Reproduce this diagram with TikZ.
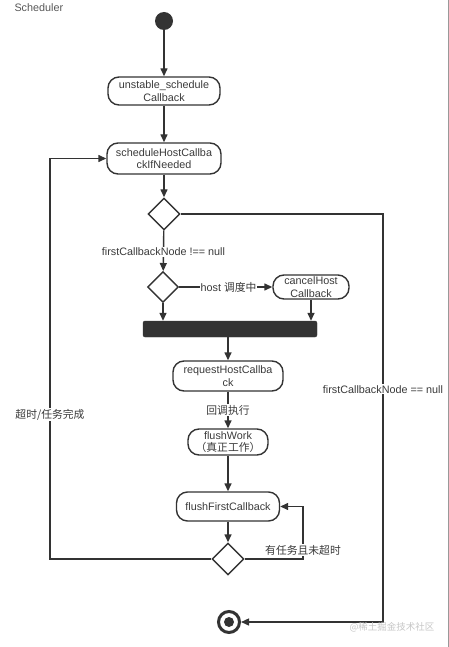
\documentclass[tikz,border=0pt]{standalone}
\usepackage{fontspec}
\setmainfont{Liberation Sans}
\newfontfamily\cjk{Noto Sans CJK SC}
\usetikzlibrary{arrows.meta,shapes.geometric}
\definecolor{lc}{HTML}{333333}
\definecolor{tc}{HTML}{3A3A3A}
\begin{document}
\begin{tikzpicture}[x=1pt,y=-1pt,
  every node/.style={text=tc,font=\fontsize{10.8}{12.5}\selectfont},
  line/.style={draw=lc,line width=1.4pt},
  arr/.style={line,-{Triangle[length=8pt,width=7pt]}},
  act/.style={draw=lc,line width=1.4pt,rounded corners=11pt,align=center,inner sep=1pt},
  dec/.style={diamond,draw=lc,line width=1.4pt,fill=white,inner sep=0pt,minimum width=32pt,minimum height=32pt},
  lbl/.style={fill=white,inner sep=1pt}]
\useasboundingbox (0,0) rectangle (449,647);
\draw[draw=gray!80,line width=1pt] (448.3,0) -- (448.3,647);
\node[anchor=west,text=tc!85] (title) at (11,8) {Scheduler};

\node[circle,fill=lc,minimum size=18pt,inner sep=0pt] (start) at (164,21) {};
\node[act,minimum width=112pt,minimum height=28pt] (u) at (164,91) {unstable\_schedule\\Callback};
\node[act,minimum width=114pt,minimum height=31pt] (s) at (164,158.5) {scheduleHostCallba\\ckIfNeeded};
\node[dec] (d1) at (164,214) {};
\node[dec,minimum width=31pt,minimum height=31pt] (d2) at (163,287) {};
\node[act,minimum width=76pt,minimum height=24pt] (c) at (311,287) {cancelHost\\Callback};
\node[draw=lc,fill=lc,rounded corners=2pt,minimum width=174pt,minimum height=16pt,inner sep=0pt] (bar) at (230,329) {};
\node[act,minimum width=110pt,minimum height=30pt] (r) at (228,376) {requestHostCallba\\ck};
\node[act,minimum width=80pt,minimum height=26pt] (f) at (228,442) {flushWork\\{\cjk（真正工作）}};
\node[act,minimum width=103pt,minimum height=29pt] (ff) at (228,506.5) {flushFirstCallback};
\node[dec] (d3) at (228,559) {};
\node[circle,draw=lc,line width=3pt,minimum size=21pt,inner sep=0pt] (end) at (229,622) {};
\node[circle,fill=lc,minimum size=10pt,inner sep=0pt] (endin) at (229,622) {};

\coordinate (k1) at (383,214);
\coordinate (k2) at (303,559);
\coordinate (k3) at (50,559);

\draw[arr] (start) -- (u);
\draw[arr] (u) -- (s);
\draw[arr] (s) -- (d1);
\draw[arr] (d1) -- node[lbl,pos=0.52] (l1) {firstCallbackNode !== null} (d2);
\draw[arr] (d2) -- node[lbl,pos=0.53] (l2) {host {\cjk 调度中}} (c);
\draw[arr] (d2.south) -- (d2.south |- bar.north);
\draw[arr] (c.south) -- (c.south |- bar.north);
\draw[arr] (r.north |- bar.south) -- (r.north);
\draw[arr] (r) -- node[lbl,pos=0.5] (l3) {\cjk 回调执行} (f);
\draw[arr] (f) -- (ff);
\draw[arr] (ff) -- (d3);
\draw[arr] (d3.east) -- (k2) |- node[lbl,pos=0.085] (l4) {\cjk 有任务且未超时} (ff.east);
\draw[arr] (d3.west) -- (k3) |- node[lbl,pos=0.18] (l5) {\cjk 超时/任务完成} (s.west);
\draw[arr] (d1.east) -- (k1) |- node[lbl,pos=0.215] (l6) {firstCallbackNode == null} (end.east);

\node[text=gray!45,font=\cjk\fontsize{9.5}{11}\selectfont] (wm) at (392,627) {@稀土掘金技术社区};
\end{tikzpicture}
\end{document}
